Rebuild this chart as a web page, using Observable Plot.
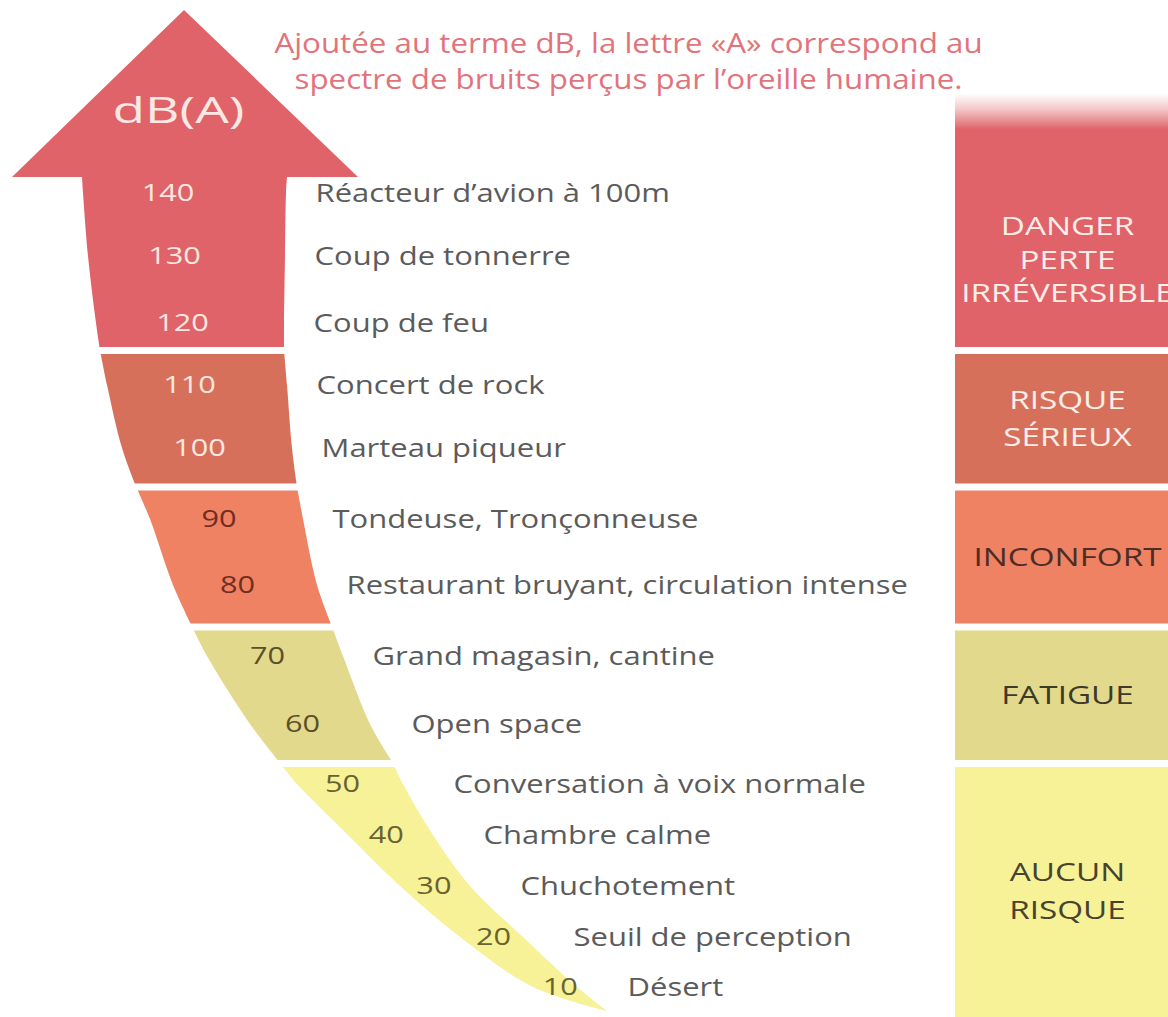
<!DOCTYPE html>
<html><head><meta charset="utf-8">
<script src="https://cdn.jsdelivr.net/npm/d3@7"></script>
<script src="https://cdn.jsdelivr.net/npm/@observablehq/plot@0.6"></script>
<style>
body{margin:0;background:#fff;}
#chart svg{display:block;}
</style></head><body><div id="chart"></div>
<script>
// ---------- data ----------
const levels = [140,130,120,110,100,90,80,70,60,50,40,30,20,10];
const sources = ["Réacteur d’avion à 100m","Coup de tonnerre","Coup de feu","Concert de rock","Marteau piqueur","Tondeuse, Tronçonneuse","Restaurant bruyant, circulation intense","Grand magasin, cantine","Open space","Conversation à voix normale","Chambre calme","Chuchotement","Seuil de perception","Désert"];
const zoneNames = ["DANGER\nPERTE\nIRRÉVERSIBLE","RISQUE\nSÉRIEUX","INCONFORT","FATIGUE","AUCUN\nRISQUE"];
const zoneLow  = [115, 95, 75, 55, 0];
const zoneHigh = [145, 115, 95, 75, 55];
const unitLabel = "dB(A)";
const note = "Ajoutée au terme dB, la lettre «A» correspond au\nspectre de bruits perçus par l’oreille humaine.";

// ---------- styles ----------
const zoneFill = ["#df6368","#d6705b","#ee8262","#e3d98c","#f7f198"];
const zoneNumInk = ["#fbe7e1","#fbe7e1","#6e2e22","#5a5128","#6a6330"];
const zoneLabelInk = ["#fdeee8","#fdeee8","#4d2c26","#3e3a28","#47432e"];
const font = "Open Sans";
// horizontal stretch of the lettering (the figure's type is set wide)
const stretch = {numbers: 1.28, sources: 1.24, zonesTop: 1.33, zones: 1.33, unit: 1.44, note: 1.16};

// ---------- geometry of the drawing (scale knots and arrow outline) ----------
const yKnotDb = [-3, 0, 10, 20, 30, 40, 50, 55, 60, 70, 75, 80, 90, 95, 100, 110, 115, 120, 130, 140, 145, 165];
const yKnotPx = [1018, 1011, 987, 937, 886, 835, 784, 763, 724, 656, 626.5, 585, 519, 486.5, 448, 385, 350, 323, 256, 193, 177, 10];
const edgeDb    = [0, 10, 20, 30, 40, 50, 55, 60, 70, 75, 80, 90, 95, 100, 110, 115, 120, 130, 140, 145];
const edgeLeft  = [607, 533, 460, 400, 348, 297, 280, 250, 207, 192, 173, 150, 136, 122, 107, 100, 96, 88, 83, 82];
const edgeRight = [607, 577, 523, 470, 433, 403, 393, 370, 343, 332, 317, 303, 297, 292, 287, 284, 284, 285, 286, 287];
const headDb = [145, 165], headLeft = [12, 184], headRight = [358, 184];
const blockX1 = 955, blockX2 = 1180, dangerTop = 155;

const yS = d3.scaleLinear(yKnotDb, yKnotPx);
const leftAt = d3.scaleLinear(edgeDb, edgeLeft);
const rightAt = d3.scaleLinear(edgeDb, edgeRight);
const zoneOf = v => zoneLow.findIndex((lo, i) => v >= lo && v < zoneHigh[i]);
const numberX = v => (leftAt(v) + rightAt(v)) / 2 - 8 + (v < 50 ? (50 - v) * 0.32 : 0) - (v > 120 ? (v - 120) * 0.45 : 0);
const sourceX = v => rightAt(v) + (v >= 70 ? 29 : Math.min(50, 29 + (70 - v) * 1.2));

// arrow body points per zone
const body = [];
zoneLow.forEach((lo, i) => {
  edgeDb.filter(d => d >= lo && d <= zoneHigh[i]).forEach(d => body.push({zone: i, db: d, x1: leftAt(d), x2: rightAt(d)}));
});
const head = headDb.map((d, i) => ({db: d, x1: headLeft[i], x2: headRight[i]}));

const zones = zoneNames.map((name, i) => ({
  name, i, lo: i === 4 ? -3 : zoneLow[i], hi: i === 0 ? dangerTop : zoneHigh[i],
  mid: yS.invert((yS(zoneLow[i] === 0 ? -3 : zoneLow[i]) + yS(zoneHigh[i])) / 2)
}));

const rows = levels.map((v, k) => ({v, src: sources[k], z: zoneOf(v)}));

const plot = Plot.plot({
  width: 1168, height: 1017, margin: 0,
  x: {domain: [0, 1168], range: [0, 1168], axis: null},
  // dB -> vertical position through the (non-linear) level spacing of the figure
  y: {transform: yS, domain: [0, 1017], range: [0, 1017], axis: null},
  color: {type: "identity"},
  style: {fontFamily: font, background: "#fff"},
  marks: [
    // right-hand blocks
    Plot.rect(zones.filter(z => z.i > 0), {x1: blockX1, x2: blockX2, y1: "lo", y2: "hi", fill: d => zoneFill[d.i]}),
    Plot.rect(zones.filter(z => z.i === 0), {x1: blockX1, x2: blockX2, y1: "lo", y2: "hi", fill: "url(#dangerFade)"}),
    // arrow body and head
    Plot.areaX(body, {y: "db", x1: "x1", x2: "x2", z: "zone", fill: d => zoneFill[d.zone], curve: "catmull-rom"}),
    Plot.areaX(head, {y: "db", x1: "x1", x2: "x2", fill: zoneFill[0]}),
    // white gaps between zones
    Plot.ruleY(zoneLow.slice(0, 4), {stroke: "#fff", strokeWidth: 7}),
    // dB values
    Plot.text(rows, {ariaDescription: "numbers", x: d => numberX(d.v), y: "v", text: d => String(d.v),
      fill: d => zoneNumInk[d.z], fontSize: 24}),
    // sources
    Plot.text(rows, {ariaDescription: "sources", x: d => sourceX(d.v), y: "v", text: "src",
      textAnchor: "start", fill: "#5b5b5b", fontSize: 25}),
    // zone labels
    Plot.text(zones.filter(z => z.i === 0), {ariaDescription: "zonesTop", x: 1067, y: "mid", dy: -6, text: "name", fill: d => zoneLabelInk[d.i],
      fontSize: 25, lineHeight: 1.34}),
    Plot.text(zones.filter(z => z.i > 0), {ariaDescription: "zones", x: 1067, y: "mid", dy: -3, text: "name", fill: d => zoneLabelInk[d.i],
      fontSize: 25, lineHeight: 1.5}),
    // unit label in arrow head
    Plot.text([unitLabel], {ariaDescription: "unit", x: 178, frameAnchor: "top", lineAnchor: "middle", dy: 111, text: d => d, fill: "#fbe8e4", fontSize: 37}),
    // note
    Plot.text([note], {ariaDescription: "note", x: 628, frameAnchor: "top", dy: 28, lineAnchor: "top", text: d => d, fill: "#e2737b", fontSize: 27, lineHeight: 1.3})
  ]
});

// widen lettering about each text's anchor
const textGroups = Array.from(plot.querySelectorAll('g[aria-label="text"]'));
Object.entries(stretch).forEach(([label, s], k) => {
  const g = plot.querySelector(`g[aria-description="${label}"]`) || textGroups[k];
  if (!g) return;
  g.querySelectorAll("text").forEach(t => {
    const x = +t.getAttribute("x") || 0, y = +t.getAttribute("y") || 0;
    const tr = t.getAttribute("transform") || "";
    t.setAttribute("transform", `${tr} translate(${x},${y}) scale(${s},1) translate(${-x},${-y})`);
  });
});

// gradient for the fading top of the danger block
const ns = "http://www.w3.org/2000/svg";
const defs = document.createElementNS(ns, "defs");
const grad = document.createElementNS(ns, "linearGradient");
grad.setAttribute("id", "dangerFade");
grad.setAttribute("x1", "0"); grad.setAttribute("y1", "0"); grad.setAttribute("x2", "0"); grad.setAttribute("y2", "1");
[[0, 0], [0.06, 0.35], [0.14, 1], [1, 1]].forEach(([o, a]) => {
  const s = document.createElementNS(ns, "stop");
  s.setAttribute("offset", o); s.setAttribute("stop-color", zoneFill[0]); s.setAttribute("stop-opacity", a);
  grad.appendChild(s);
});
defs.appendChild(grad);
plot.insertBefore(defs, plot.firstChild);
document.getElementById("chart").appendChild(plot);
</script></body></html>
